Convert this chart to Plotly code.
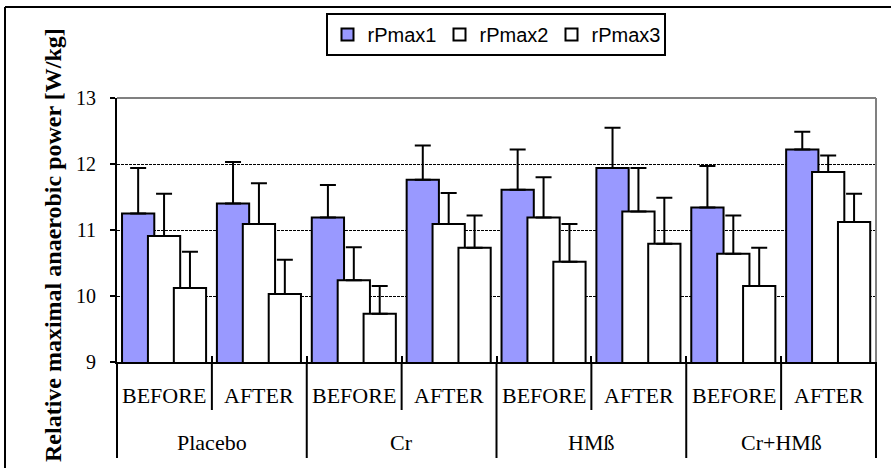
import plotly.graph_objects as go

# ---- data ----
groups = ["Placebo", "Placebo", "Cr", "Cr", "HMß", "HMß", "Cr+HMß", "Cr+HMß"]
phases = ["BEFORE", "AFTER", "BEFORE", "AFTER", "BEFORE", "AFTER", "BEFORE", "AFTER"]

rPmax1 = [11.25, 11.40, 11.19, 11.76, 11.61, 11.94, 11.34, 12.22]
err1 = [0.69, 0.63, 0.49, 0.52, 0.61, 0.61, 0.63, 0.27]
rPmax2 = [10.91, 11.09, 10.24, 11.09, 11.19, 11.28, 10.64, 11.88]
err2 = [0.64, 0.62, 0.50, 0.47, 0.61, 0.66, 0.58, 0.25]
rPmax3 = [10.12, 10.03, 9.73, 10.73, 10.52, 10.79, 10.15, 11.12]
err3 = [0.55, 0.52, 0.42, 0.49, 0.57, 0.70, 0.58, 0.43]

series_names = ["rPmax1", "rPmax2", "rPmax3"]
y_ticks = [9, 10, 11, 12, 13]
y_title = "Relative maximal anaerobic power [W/kg]"

# ---- layout constants ----
W, H = 891, 468
ML, MR, MT, MB = 117, 15, 98, 106
PW, PH = W - ML - MR, H - MT - MB

SERIF = "Liberation Serif, Times New Roman, serif"
SANS = "Liberation Sans, Arial, sans-serif"

bar_w = 0.34
offsets = [-0.447, -0.174, 0.099]
fills = ["#9999FF", "#FFFFFF", "#FFFFFF"]
values = [rPmax1, rPmax2, rPmax3]
errors = [err1, err2, err3]

fig = go.Figure()
for name, vals, errs, off, col in zip(series_names, values, errors, offsets, fills):
    fig.add_trace(go.Bar(
        x=[groups, phases], y=vals, name=name,
        width=bar_w, offset=off,
        marker=dict(color=col, line=dict(color="black", width=2)),
        error_y=dict(type="data", array=errs, arrayminus=[0] * len(errs),
                     symmetric=False, color="black", thickness=2, width=8),
    ))


def px_x(px):
    return (px - ML) / PW


def px_y(py):
    return (H - MB - py) / PH


n_cat = len(groups)
shapes = []
annotations = []

# category dividers: long at group boundaries, short between BEFORE/AFTER
for k in range(0, n_cat + 1):
    is_group_edge = (k == 0 or k == n_cat or groups[k] != groups[k - 1])
    y_end = 458 if is_group_edge else 410
    shapes.append(dict(type="line", xref="paper", yref="paper",
                       x0=k / n_cat, x1=k / n_cat, y0=0, y1=px_y(y_end),
                       line=dict(color="black", width=2)))

# inner labels (BEFORE / AFTER)
for i, ph in enumerate(phases):
    annotations.append(dict(text=ph, xref="paper", yref="paper",
                            x=(i + 0.5) / n_cat, y=px_y(395),
                            xanchor="center", yanchor="middle", showarrow=False,
                            font=dict(family=SERIF, size=22, color="black")))
# outer labels (groups)
seen = []
for g in groups:
    if g not in seen:
        seen.append(g)
for g in seen:
    idx = [i for i, gg in enumerate(groups) if gg == g]
    xc = (min(idx) + max(idx) + 1) / 2 / n_cat
    annotations.append(dict(text=g, xref="paper", yref="paper",
                            x=xc, y=px_y(442),
                            xanchor="center", yanchor="middle", showarrow=False,
                            font=dict(family=SERIF, size=22, color="black")))

# plot area top / right border (grey)
shapes.append(dict(type="line", xref="paper", yref="paper", x0=0, x1=1, y0=1, y1=1,
                   line=dict(color="#808080", width=2), layer="above"))
shapes.append(dict(type="line", xref="paper", yref="paper", x0=1, x1=1, y0=0, y1=1,
                   line=dict(color="#808080", width=2), layer="above"))
# outer chart frame (left + top visible)
shapes.append(dict(type="line", xref="paper", yref="paper",
                   x0=px_x(5), x1=px_x(W + 10), y0=px_y(7), y1=px_y(7),
                   line=dict(color="black", width=2)))
shapes.append(dict(type="line", xref="paper", yref="paper",
                   x0=px_x(5), x1=px_x(5), y0=px_y(7), y1=px_y(H + 10),
                   line=dict(color="black", width=2)))

annotations.append(dict(text="<b>" + y_title + "</b>", textangle=-90,
                        xref="paper", yref="paper", x=px_x(53), y=px_y(245),
                        xanchor="center", yanchor="middle", showarrow=False,
                        font=dict(family=SERIF, size=24, color="black")))

fig.update_layout(
    width=W, height=H,
    margin=dict(l=ML, r=MR, t=MT, b=MB, pad=0),
    paper_bgcolor="white", plot_bgcolor="white",
    barmode="overlay",
    showlegend=True,
    legend=dict(orientation="h", x=px_x(495.5), xanchor="center", y=px_y(34.5), yanchor="middle",
                bgcolor="white", bordercolor="black", borderwidth=2,
                font=dict(family=SANS, size=20, color="black"),
                itemwidth=30, entrywidth=67, tracegroupgap=0),
    xaxis=dict(type="multicategory", showline=True, linecolor="black", linewidth=2,
               ticks="inside", ticklen=6, tickwidth=2, tickcolor="black",
               tickson="boundaries", showticklabels=False, showdividers=False,
               showgrid=False),
    yaxis=dict(range=[9, 13], tickvals=y_ticks, showline=True, linecolor="black", linewidth=2,
               ticks="outside", ticklen=5, tickwidth=2, tickcolor="black",
               tickfont=dict(family=SERIF, size=20, color="black"),
               ticklabelstandoff=10,
               showgrid=True, gridcolor="black", gridwidth=1, griddash="3px,1px",
               zeroline=False),
    shapes=shapes,
    annotations=annotations,
)

fig.write_html("out.html")
